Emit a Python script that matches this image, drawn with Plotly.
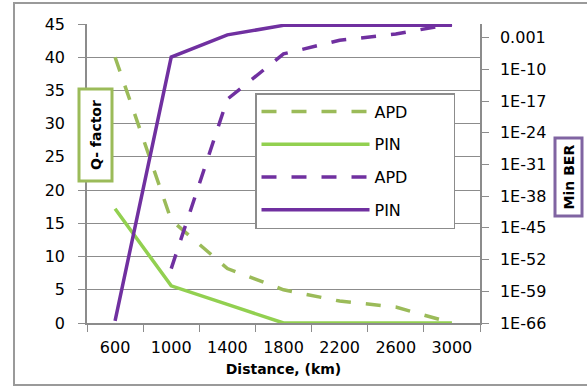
import plotly.graph_objects as go

# ---- data ----
distance = ["600", "1000", "1400", "1800", "2200", "2600", "3000"]
q_apd = [40, 15.5, 8.2, 5.0, 3.3, 2.4, 0]
q_pin = [17.2, 5.6, 2.8, 0, 0, 0, 0]
ber_apd = [None, 1e-54, 2.5e-17, 2.5e-7, 2.5e-4, 6e-3, 1.0]
ber_pin = [3e-66, 5e-8, 4e-3, 0.5, 0.5, 0.5, 0.5]
ber_tickvals = [1e-66, 1e-59, 1e-52, 1e-45, 1e-38, 1e-31, 1e-24, 1e-17, 1e-10, 1e-3]
ber_ticktext = ["1E-66", "1E-59", "1E-52", "1E-45", "1E-38", "1E-31", "1E-24", "1E-17", "1E-10", "0.001"]
q_ticks = [0, 5, 10, 15, 20, 25, 30, 35, 40, 45]

FONT = "DejaVu Sans"
GRID = "#8c8c8c"
GREEN_APD = "#9BBB59"
GREEN_PIN = "#92D050"
PURPLE = "#7030A0"

W, H = 587, 387
L, R, T, B = 87, 107, 24, 64
PW, PH = W - L - R, H - T - B


def px(x):
    return (x - L) / PW


def py(y):
    return (H - B - y) / PH


PADTXT = "\u00a0" * 8

fig = go.Figure()
fig.add_trace(go.Scatter(x=distance, y=q_apd, name="APD" + PADTXT, mode="lines", legendgroup="a",
                         line=dict(color=GREEN_APD, width=3.5, dash="15px,15px")))
fig.add_trace(go.Scatter(x=distance, y=q_pin, name="PIN" + PADTXT, mode="lines", legendgroup="b",
                         line=dict(color=GREEN_PIN, width=3.5)))
fig.add_trace(go.Scatter(x=distance, y=ber_apd, name="APD" + PADTXT, mode="lines", legendgroup="c",
                         yaxis="y2", line=dict(color=PURPLE, width=3.5, dash="15px,15px")))
fig.add_trace(go.Scatter(x=distance, y=ber_pin, name="PIN" + PADTXT, mode="lines", legendgroup="d",
                         yaxis="y2", line=dict(color=PURPLE, width=3.5)))

tickfont = dict(family=FONT, size=16, color="#000")

fig.update_layout(
    width=W, height=H,
    margin=dict(l=L, r=R, t=T, b=B, pad=0),
    paper_bgcolor="white", plot_bgcolor="white",
    font=dict(family=FONT, size=16, color="#000"),
    showlegend=True,
    legend=dict(x=px(255), y=py(93), xanchor="left", yanchor="top",
                bgcolor="white", bordercolor=GRID, borderwidth=1.5,
                font=dict(family=FONT, size=16, color="#000"),
                tracegroupgap=9, itemwidth=108, traceorder="grouped"),
    xaxis=dict(type="category", range=[-0.5, 6.5], showgrid=False, zeroline=False,
               showline=True, linecolor=GRID, linewidth=1.5,
               ticks="outside", tickson="boundaries", ticklen=7, tickcolor=GRID,
               tickfont=tickfont, ticklabelstandoff=9,
               title=dict(text="Distance, (km)", standoff=8,
                          font=dict(family=FONT, size=14, color="#000", weight="bold"))),
    yaxis=dict(range=[0, 45], tickvals=q_ticks, showgrid=True, gridcolor=GRID, gridwidth=1,
               zeroline=False, showline=True, linecolor=GRID, linewidth=1.5,
               ticks="outside", ticklen=7, tickcolor=GRID, tickfont=tickfont,
               ticklabelstandoff=10),
    yaxis2=dict(type="log", range=[-66, 0], overlaying="y", side="right",
                tickvals=ber_tickvals, ticktext=ber_ticktext, showgrid=False,
                zeroline=False, showline=True, linecolor=GRID, linewidth=1.5,
                ticks="outside", ticklen=7, tickcolor=GRID, tickfont=tickfont,
                ticklabelstandoff=8),
)

# outer chart border
fig.add_shape(type="rect", xref="paper", yref="paper",
              x0=px(14), x1=px(600), y0=py(385), y1=py(3),
              line=dict(color="#9a9a9a", width=2), layer="below")

fig.add_annotation(x=px(95), y=py(135.5), xref="paper", yref="paper",
                   xanchor="center", yanchor="middle", text="Q- factor", textangle=-90,
                   showarrow=False, width=89, height=30, borderpad=0,
                   bordercolor=GREEN_APD, borderwidth=3, bgcolor="white",
                   font=dict(family=FONT, size=14, color="#000", weight="bold"))
fig.add_annotation(x=px(568), y=py(177.5), xref="paper", yref="paper",
                   xanchor="center", yanchor="middle", text="Min BER", textangle=-90,
                   showarrow=False, width=75, height=24, borderpad=0,
                   bordercolor="#8064A2", borderwidth=3, bgcolor="white",
                   font=dict(family=FONT, size=14, color="#000", weight="bold"))

fig.write_html("out.html")
